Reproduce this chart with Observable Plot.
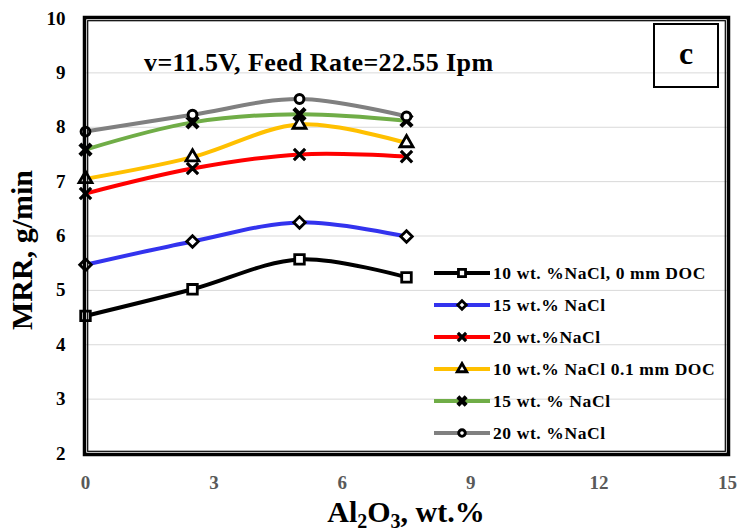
<!DOCTYPE html>
<html><head><meta charset="utf-8">
<script src="https://cdn.jsdelivr.net/npm/d3@7"></script>
<script src="https://cdn.jsdelivr.net/npm/@observablehq/plot@0.6"></script>
<style>
body{margin:0;background:#fff;}
#wrap{position:relative;width:742px;height:531px;font-family:"Liberation Serif","Times New Roman",serif;font-weight:bold;color:#000;}
.ov{position:absolute;white-space:nowrap;}
#ylab{left:22px;top:250px;font-size:30px;transform:translate(-50%,-50%) rotate(-90deg);}
#xlab{left:406px;top:512px;font-size:30px;transform:translate(-50%,-50%);}
#xlab sub{font-size:20px;vertical-align:-6px;line-height:0;}
#note{left:144px;top:48px;font-size:26px;letter-spacing:0.4px;}
#cbox{left:653px;top:23px;width:62px;height:61px;border:2px solid #000;font-size:32px;text-align:center;line-height:56px;}
#legend{left:434px;top:257px;font-size:17.5px;letter-spacing:0.6px;}
.row{display:flex;align-items:center;height:32px;}
.row svg{margin-right:3px;}
</style></head><body><div id="wrap"></div>
<script>
const xs = [0, 2.5, 5, 7.5];
const seriesNames = ["10 wt. %NaCl, 0 mm DOC", "15 wt.% NaCl", "20 wt.%NaCl", "10 wt.% NaCl 0.1 mm DOC", "15 wt. % NaCl", "20 wt. %NaCl"];
const v1 = [4.53, 5.02, 5.57, 5.24];
const v2 = [5.47, 5.90, 6.25, 5.99];
const v3 = [6.78, 7.24, 7.50, 7.46];
const v4 = [7.05, 7.45, 8.05, 7.71];
const v5 = [7.59, 8.09, 8.24, 8.12];
const v6 = [7.92, 8.23, 8.52, 8.20];
const colors = ["#000000", "#3333ee", "#ff0000", "#ffc000", "#70ad47", "#808080"];
const xTicks = [0, 3, 6, 9, 12, 15];
const yTicks = [2, 3, 4, 5, 6, 7, 8, 9, 10];

const values = [v1, v2, v3, v4, v5, v6];
const symbols = [d3.symbolSquare, d3.symbolDiamond2, d3.symbolTimes, d3.symbolTriangle, d3.symbolTimes, d3.symbolCircle];
const symR = [5.4, 5.2, 5.2, 4.8, 5.2, 4.4];
const symSW = [2.8, 2.8, 3.2, 2.8, 4.2, 3];

const marks = [
  Plot.gridY(yTicks.filter(d => d > 2 && d < 10), {stroke: "#d9d9d9", strokeOpacity: 1, strokeWidth: 1}),
  Plot.axisY(yTicks, {tickSize: 0, tickPadding: 20, fontSize: 19, fontWeight: "bold", fill: "#000", label: null, tickFormat: d => String(d)}),
  Plot.axisX(xTicks, {tickSize: 0, tickPadding: 22, fontSize: 19, fontWeight: "bold", fill: "#595959", label: null, tickFormat: d => String(d)}),
];
values.forEach((vals, i) => {
  const data = xs.map((x, j) => ({x, y: vals[j]}));
  marks.push(Plot.line(data, {x: "x", y: "y", stroke: colors[i], strokeWidth: 4, curve: "catmull-rom"}));
  const filled = symbols[i] !== d3.symbolTimes;
  marks.push(Plot.dot(data, {x: "x", y: "y", symbol: symbols[i], r: symR[i], stroke: "#000", strokeWidth: symSW[i], fill: filled ? "#fff" : "none"}));
});
marks.push(Plot.frame({stroke: "#000", strokeWidth: 3.5, inset: -1}));
marks.push(Plot.frame({stroke: "#000", strokeWidth: 1.2, inset: 2.2}));

const chart = Plot.plot({
  width: 742, height: 531,
  marginLeft: 85, marginRight: 15, marginTop: 18, marginBottom: 78,
  style: {fontFamily: "'Liberation Serif','Times New Roman',serif", background: "#fff"},
  x: {domain: [0, 15]},
  y: {domain: [2, 10]},
  marks
});
const wrap = document.getElementById("wrap");
wrap.appendChild(chart);

function ov(id, html) {
  const d = document.createElement("div");
  d.className = "ov"; d.id = id; d.innerHTML = html; wrap.appendChild(d); return d;
}
ov("ylab", "MRR, g/min");
ov("xlab", "Al<sub>2</sub>O<sub>3</sub>, wt.%");
ov("note", "v=11.5V, Feed Rate=22.55 Ipm");
ov("cbox", "c");
const leg = ov("legend", "");
seriesNames.forEach((name, i) => {
  const row = document.createElement("div");
  row.className = "row";
  const svg = d3.create("svg").attr("width", 56).attr("height", 16);
  svg.append("line").attr("x1", 0).attr("x2", 56).attr("y1", 8).attr("y2", 8).attr("stroke", colors[i]).attr("stroke-width", 4);
  const size = symR[i] * symR[i] * Math.PI * 0.55;
  svg.append("path").attr("transform", "translate(28,8)")
    .attr("d", d3.symbol(symbols[i], size)())
    .attr("fill", symbols[i] === d3.symbolTimes ? "none" : "#fff")
    .attr("stroke", "#000").attr("stroke-width", symSW[i]);
  row.appendChild(svg.node());
  const t = document.createElement("span"); t.textContent = name; row.appendChild(t);
  leg.appendChild(row);
});
</script></body></html>
